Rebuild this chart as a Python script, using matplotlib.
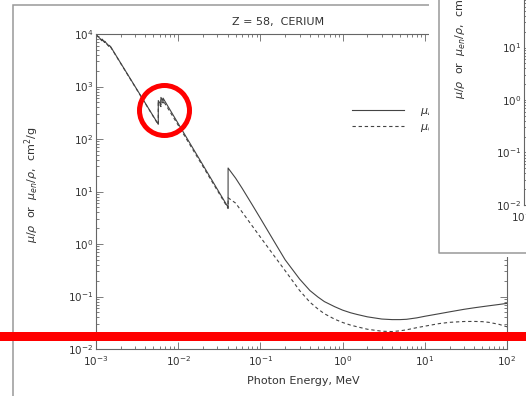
import matplotlib
matplotlib.use('Agg')
import matplotlib.pyplot as plt
from matplotlib.patches import Rectangle, Ellipse
from matplotlib.lines import Line2D
from matplotlib.ticker import LogLocator, NullFormatter

W, H = 526, 396

# photon energy (MeV) with absorption edges repeated, NIST style
energy_mev = [1.0000e-03, 1.1852e-03, 1.1852e-03, 1.2733e-03, 1.2733e-03, 1.4349e-03, 1.4349e-03,
              1.5000e-03, 2.0000e-03, 3.0000e-03, 4.0000e-03, 5.0000e-03, 5.7234e-03, 5.7234e-03,
              6.0000e-03, 6.1642e-03, 6.1642e-03, 6.5488e-03, 6.5488e-03, 8.0000e-03, 1.0000e-02,
              1.5000e-02, 2.0000e-02, 3.0000e-02, 4.0000e-02, 4.0443e-02, 4.0443e-02, 5.0000e-02,
              6.0000e-02, 8.0000e-02, 1.0000e-01, 1.5000e-01, 2.0000e-01, 3.0000e-01, 4.0000e-01,
              5.0000e-01, 6.0000e-01, 8.0000e-01, 1.0000e+00, 1.2500e+00, 1.5000e+00, 2.0000e+00,
              3.0000e+00, 4.0000e+00, 5.0000e+00, 6.0000e+00, 8.0000e+00, 1.0000e+01, 1.5000e+01,
              2.0000e+01, 3.0000e+01, 4.0000e+01, 5.0000e+01, 6.0000e+01, 8.0000e+01, 1.0000e+02]

# mass attenuation coefficient mu/rho (cm2/g)
mu_rho = [9.8e3, 7.5e3, 8.0e3, 7.0e3, 7.3e3, 5.9e3, 6.1e3,
          5.8e3, 2.78e3, 991, 476, 269, 191, 540,
          478, 445, 620, 530, 600, 354, 197,
          67.8, 31.9, 10.96, 5.15, 5.0, 28.0, 17.9,
          11.5, 5.5, 3.08, 1.06, 0.50, 0.215, 0.13,
          0.098, 0.080, 0.064, 0.055, 0.049, 0.0455, 0.041,
          0.0372, 0.0363, 0.0363, 0.0368, 0.0392, 0.042, 0.047,
          0.051, 0.057, 0.061, 0.064, 0.0665, 0.0705, 0.074]

# mass energy-absorption coefficient mu_en/rho (cm2/g)
mu_en_rho = [9.7e3, 7.4e3, 7.9e3, 6.9e3, 7.2e3, 5.8e3, 6.0e3,
             5.7e3, 2.74e3, 975, 468, 265, 188, 500,
             444, 414, 565, 484, 540, 325, 183,
             63.5, 30.0, 10.4, 4.9, 4.75, 7.6, 6.0,
             4.05, 2.18, 1.35, 0.57, 0.31, 0.13, 0.078,
             0.058, 0.047, 0.037, 0.032, 0.0285, 0.0265, 0.0238,
             0.0218, 0.0215, 0.0222, 0.0232, 0.0255, 0.0272, 0.0305,
             0.0322, 0.0334, 0.0335, 0.0332, 0.0322, 0.0295, 0.0265]

title_text = 'Z = 58,  CERIUM'
x_label = 'Photon Energy, MeV'
y_label = r'$\mu/\rho$  or  $\mu_{en}/\rho$,  cm$^2$/g'
series_labels = [r'$\mu/\rho$', r'$\mu_{en}/\rho$']

plt.rcParams['font.family'] = ['DejaVu Sans']
plt.rcParams['mathtext.fontset'] = 'dejavusans'
INK = '#444444'
GRID = '#666666'


def fx(x):
    return x / W


def fy(y):
    return 1 - y / H


def draw_chart(ax):
    ax.plot(energy_mev, mu_rho, color=INK, lw=0.8, label=series_labels[0])
    ax.plot(energy_mev, mu_en_rho, color=INK, lw=0.8, ls=(0, (3, 2.5)), label=series_labels[1])
    ax.set_xscale('log')
    ax.set_yscale('log')
    ax.set_xlim(1e-3, 1e2)
    ax.set_ylim(1e-2, 1e4)
    for axis in (ax.xaxis, ax.yaxis):
        axis.set_major_locator(LogLocator(base=10, numticks=20))
        axis.set_minor_locator(LogLocator(base=10, subs=range(2, 10), numticks=20))
        axis.set_minor_formatter(NullFormatter())
    ax.tick_params(which='both', direction='in', top=True, right=True, color=GRID,
                   width=0.6, labelsize=7.5, labelcolor='#333333')
    ax.tick_params(which='major', length=5)
    ax.tick_params(which='minor', length=2.5)
    ax.tick_params(axis='x', which='major', pad=4)
    ax.tick_params(axis='y', which='major', pad=2)
    for sp in ax.spines.values():
        sp.set_color(GRID)
        sp.set_linewidth(0.8)
    ax.set_xlabel(x_label, fontsize=8, color='#333333')
    ax.xaxis.set_label_coords((303 - 96) / 411, (349 - 376) / 315)
    ax.set_ylabel(y_label, fontsize=8, color='#333333')
    ax.yaxis.set_label_coords((41 - 96) / 411, 0.52)
    ax.text((278 - 96) / 411, (349 - 22) / 315, title_text, transform=ax.transAxes,
            ha='center', va='center', fontsize=8, color='#333333')
    ax.legend(loc='upper left', bbox_to_anchor=((352 - 96) / 411, (349 - 104) / 315),
              frameon=False, borderpad=0, borderaxespad=0, handlelength=4.7,
              handletextpad=1.4, labelspacing=0.15, fontsize=8, labelcolor='#333333')


fig = plt.figure(figsize=(W / 100, H / 100), dpi=100)

# outer screenshot frame of the main chart
fig.add_artist(Rectangle((fx(13), fy(460)), fx(700), (460 - 5) / H, transform=fig.transFigure,
                         fill=False, edgecolor='#999999', lw=1.1, zorder=-1))

ax = fig.add_axes([fx(96), fy(349), 411 / W, 315 / H])
draw_chart(ax)

# overlapping copy of the same chart on the right
fig.add_artist(Rectangle((fx(429), fy(257)), fx(120), 300 / H, transform=fig.transFigure,
                         facecolor='white', edgecolor='none', zorder=2))
fig.add_artist(Line2D([fx(438.5), fx(438.5), fx(600)], [fy(-20), fy(253), fy(253)],
                      transform=fig.transFigure, color='#999999', lw=1.1, zorder=2.5))
inset = fig.add_axes([fx(524), fy(205), 411 / W, 315 / H], zorder=3)
draw_chart(inset)

# red annotations
fig.add_artist(Ellipse((fx(164.5), fy(110.5)), 50 / W, 50 / H, transform=fig.transFigure,
                       fill=False, edgecolor='#ff0000', lw=3.6, zorder=10))
fig.add_artist(Rectangle((0, fy(341)), 1, 9 / H, transform=fig.transFigure,
                         facecolor='#ff0000', edgecolor='none', zorder=10))

fig.savefig('out.png', dpi=100)
